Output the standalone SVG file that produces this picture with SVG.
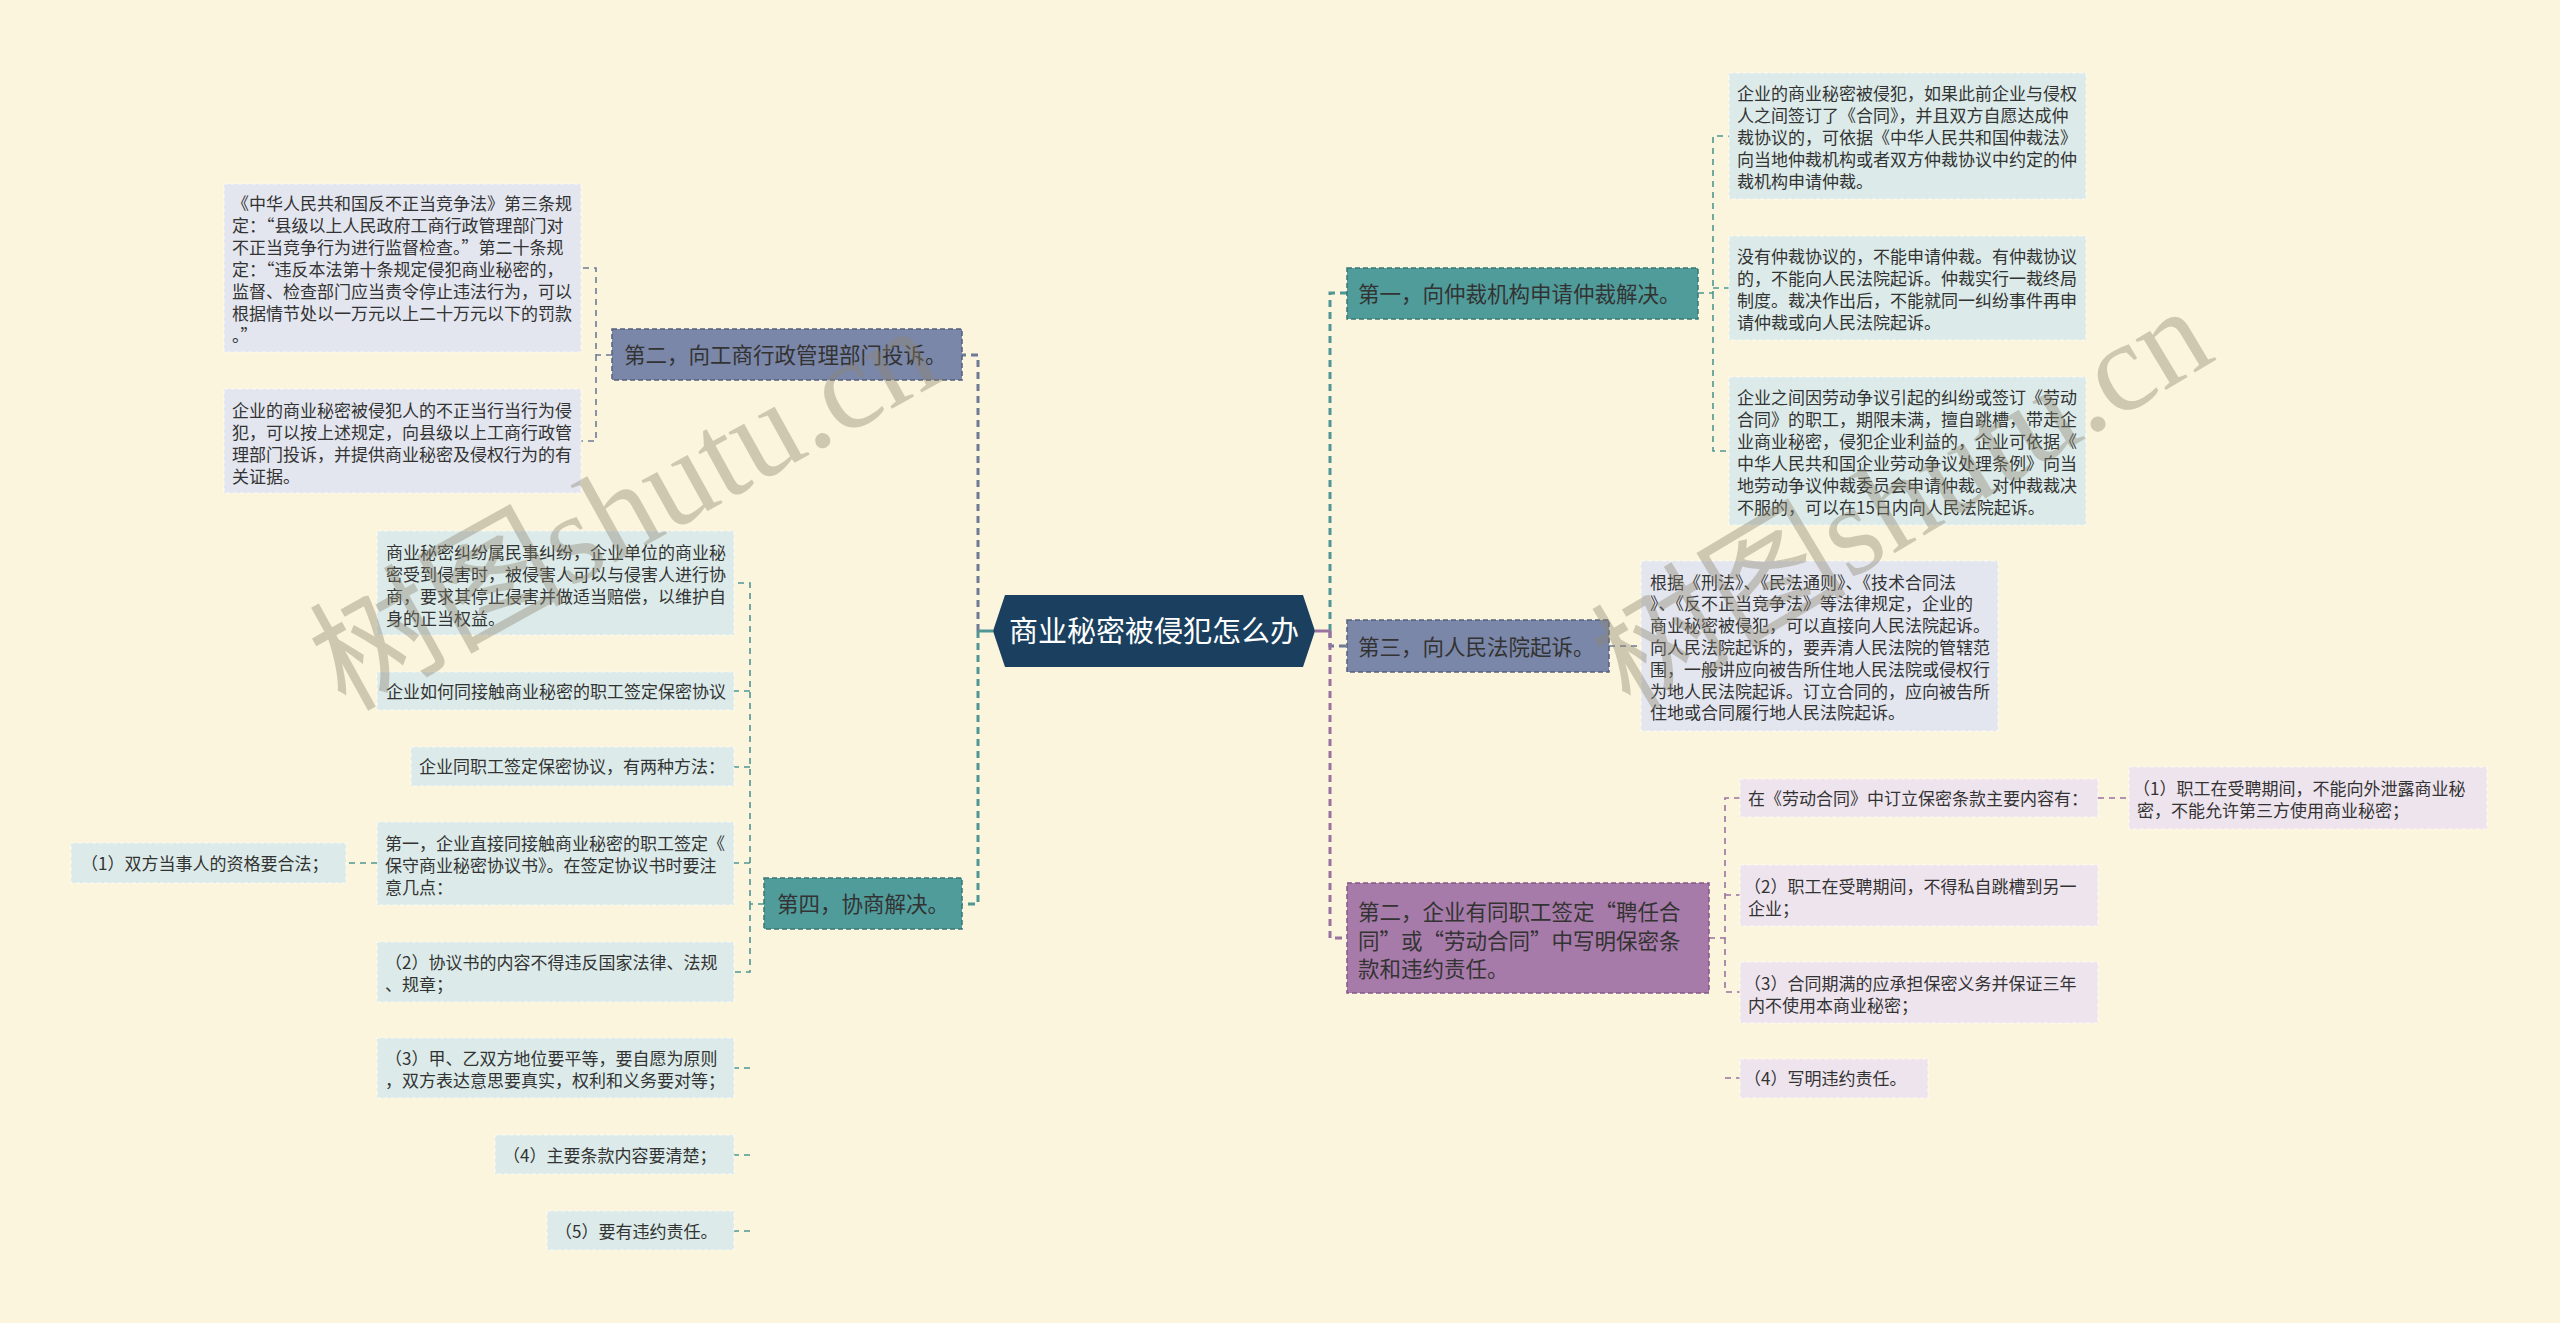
<svg xmlns="http://www.w3.org/2000/svg" width="2560" height="1323" viewBox="0 0 2560 1323">
<style>
text{font-family:"Noto Sans CJK SC","Noto Sans",sans-serif;fill:#333}
.leaf{font-size:17px}
.br{font-size:21.5px}
.fw{font-feature-settings:"fwid" 1}
.ls{fill:#e3e6ef;stroke:#ffffff;stroke-opacity:.7;stroke-width:1.2;stroke-dasharray:4 3}
.lt{fill:#dcebe9;stroke:#ffffff;stroke-opacity:.7;stroke-width:1.2;stroke-dasharray:4 3}
.lp{fill:#eee4ee;stroke:#ffffff;stroke-opacity:.7;stroke-width:1.2;stroke-dasharray:4 3}
.ns{fill:#7b87a9;stroke:#56607f;stroke-width:1.5;stroke-dasharray:5 3}
.nt{fill:#4f9c9b;stroke:#3a7775;stroke-width:1.5;stroke-dasharray:5 3}
.np{fill:#a77ba9;stroke:#85588a;stroke-width:1.5;stroke-dasharray:5 3}
.c{fill:none;stroke-dasharray:7 5}
.m{stroke-width:3}
.s{stroke-width:1.6;stroke-dasharray:6 5}
.cs{stroke:#6f7a98}
.ct{stroke:#4f9694}
.cp{stroke:#9a72a0}
.wm{font-size:128px;fill:#8c8470;fill-opacity:.4}
</style>
<rect x="0" y="0" width="2560" height="1323" fill="#fbf5dd"/>

<g id="connectors">
  <path class="c m cs" d="M978,631 V355 H962"/>
  <path class="c m ct" d="M978,631 V904 H962"/>
  <path d="M993,631 H978" stroke="#4f9694" stroke-width="3" fill="none"/>
  <path class="c m ct" d="M1330,631 V293 H1347"/>
  <path class="c m cs" d="M1330,631 V646 H1347"/>
  <path class="c m cp" d="M1330,631 V938 H1347"/>
  <path d="M1315,631 H1330" stroke="#9a72a0" stroke-width="3" fill="none"/>

  <path class="c s cs" d="M612,355 H596 V268 H581 M596,355 V441 H581"/>

  <path class="c s ct" d="M764,904 H750 V583 H734 M750,691 H734 M750,767 H734 M750,863 H734 M750,904 V972 H734 M750,1068 H734 M750,1155 H734 M750,1231 H734"/>
  <path class="c s ct" d="M377,863 H346"/>

  <path class="c s ct" d="M1698,293 H1713 V136 H1729 M1713,288 H1729 M1713,293 V451 H1729"/>
  <path class="c s cs" d="M1609,646 H1641"/>
  <path class="c s cp" d="M1709,938 H1725 V798 H1740 M1725,895 H1740 M1725,938 V992 H1740 M1725,1078 H1740"/>
  <path class="c s cp" d="M2098,798 H2129"/>
</g>

<g id="center">
  <polygon points="993,631 1005,595 1303,595 1315,631 1303,667 1005,667" fill="#1b3f5e"/>
  <text x="1154" y="642" text-anchor="middle" style="font-size:29px;fill:#ffffff">商业秘密被侵犯怎么办</text>
</g>

<g id="node-gongshang">
  <rect class="ns" x="612" y="329" width="350" height="51"/>
  <text class="br" x="624" y="363">第二，向工商行政管理部门投诉。</text>
</g>
<g id="leaf-gs1">
  <rect class="ls" x="224" y="184" width="357" height="168"/>
  <text class="leaf" x="232" y="209.5"><tspan x="232">《中华人民共和国反不正当竞争法》第三条规</tspan><tspan class="fw" x="232" dy="22">定：“县级以上人民政府工商行政管理部门对</tspan><tspan class="fw" x="232" dy="22">不正当竞争行为进行监督检查。”第二十条规</tspan><tspan class="fw" x="232" dy="22">定：“违反本法第十条规定侵犯商业秘密的，</tspan><tspan x="232" dy="22">监督、检查部门应当责令停止违法行为，可以</tspan><tspan x="232" dy="22">根据情节处以一万元以上二十万元以下的罚款</tspan><tspan class="fw" x="232" dy="22">。”</tspan></text>
</g>
<g id="leaf-gs2">
  <rect class="ls" x="224" y="389" width="357" height="104"/>
  <text class="leaf" x="232" y="416.5"><tspan x="232">企业的商业秘密被侵犯人的不正当行当行为侵</tspan><tspan x="232" dy="22">犯，可以按上述规定，向县级以上工商行政管</tspan><tspan x="232" dy="22">理部门投诉，并提供商业秘密及侵权行为的有</tspan><tspan x="232" dy="22">关证据。</tspan></text>
</g>

<g id="node-xieshang">
  <rect class="nt" x="764" y="878" width="198" height="51"/>
  <text class="br" x="777" y="912">第四，协商解决。</text>
</g>
<g id="leaf-xs1">
  <rect class="lt" x="377" y="531" width="357" height="104"/>
  <text class="leaf" x="386" y="558.5"><tspan x="386">商业秘密纠纷属民事纠纷，企业单位的商业秘</tspan><tspan x="386" dy="22">密受到侵害时，被侵害人可以与侵害人进行协</tspan><tspan x="386" dy="22">商，要求其停止侵害并做适当赔偿，以维护自</tspan><tspan x="386" dy="22">身的正当权益。</tspan></text>
</g>
<g id="leaf-xs2">
  <rect class="lt" x="377" y="672" width="357" height="38"/>
  <text class="leaf" x="386" y="697.5">企业如何同接触商业秘密的职工签定保密协议</text>
</g>
<g id="leaf-xs3">
  <rect class="lt" x="411" y="747" width="323" height="39"/>
  <text class="leaf" x="419" y="773">企业同职工签定保密协议，有两种方法：</text>
</g>
<g id="leaf-xs4">
  <rect class="lt" x="377" y="822" width="357" height="83"/>
  <text class="leaf" x="385" y="849.5"><tspan x="385">第一，企业直接同接触商业秘密的职工签定《</tspan><tspan x="385" dy="22">保守商业秘密协议书》。在签定协议书时要注</tspan><tspan x="385" dy="22">意几点：</tspan></text>
</g>
<g id="leaf-xs4a">
  <rect class="lt" x="71" y="843" width="275" height="40"/>
  <text class="leaf" x="81" y="869.5">（1）双方当事人的资格要合法；</text>
</g>
<g id="leaf-xs5">
  <rect class="lt" x="377" y="942" width="357" height="60"/>
  <text class="leaf" x="385" y="969"><tspan x="385">（2）协议书的内容不得违反国家法律、法规</tspan><tspan x="385" dy="22">、规章；</tspan></text>
</g>
<g id="leaf-xs6">
  <rect class="lt" x="377" y="1038" width="357" height="60"/>
  <text class="leaf" x="385" y="1065"><tspan x="385">（3）甲、乙双方地位要平等，要自愿为原则</tspan><tspan x="385" dy="22">，双方表达意思要真实，权利和义务要对等；</tspan></text>
</g>
<g id="leaf-xs7">
  <rect class="lt" x="495" y="1135" width="239" height="39"/>
  <text class="leaf" x="503" y="1161.5">（4）主要条款内容要清楚；</text>
</g>
<g id="leaf-xs8">
  <rect class="lt" x="547" y="1211" width="187" height="39"/>
  <text class="leaf" x="555" y="1237.5">（5）要有违约责任。</text>
</g>

<g id="node-zhongcai">
  <rect class="nt" x="1347" y="268" width="351" height="51"/>
  <text class="br" x="1358" y="301.5">第一，向仲裁机构申请仲裁解决。</text>
</g>
<g id="leaf-zc1">
  <rect class="lt" x="1729" y="73" width="357" height="126"/>
  <text class="leaf" x="1737" y="99.5"><tspan x="1737">企业的商业秘密被侵犯，如果此前企业与侵权</tspan><tspan x="1737" dy="22">人之间签订了《合同》，并且双方自愿达成仲</tspan><tspan x="1737" dy="22">裁协议的，可依据《中华人民共和国仲裁法》</tspan><tspan x="1737" dy="22">向当地仲裁机构或者双方仲裁协议中约定的仲</tspan><tspan x="1737" dy="22">裁机构申请仲裁。</tspan></text>
</g>
<g id="leaf-zc2">
  <rect class="lt" x="1729" y="236" width="357" height="104"/>
  <text class="leaf" x="1737" y="262.5"><tspan x="1737">没有仲裁协议的，不能申请仲裁。有仲裁协议</tspan><tspan x="1737" dy="22">的，不能向人民法院起诉。仲裁实行一裁终局</tspan><tspan x="1737" dy="22">制度。裁决作出后，不能就同一纠纷事件再申</tspan><tspan x="1737" dy="22">请仲裁或向人民法院起诉。</tspan></text>
</g>
<g id="leaf-zc3">
  <rect class="lt" x="1729" y="377" width="357" height="148"/>
  <text class="leaf" x="1737" y="403.5"><tspan x="1737">企业之间因劳动争议引起的纠纷或签订《劳动</tspan><tspan x="1737" dy="22">合同》的职工，期限未满，擅自跳槽，带走企</tspan><tspan x="1737" dy="22">业商业秘密，侵犯企业利益的，企业可依据《</tspan><tspan x="1737" dy="22">中华人民共和国企业劳动争议处理条例》向当</tspan><tspan x="1737" dy="22">地劳动争议仲裁委员会申请仲裁。对仲裁裁决</tspan><tspan x="1737" dy="22">不服的，可以在15日内向人民法院起诉。</tspan></text>
</g>

<g id="node-fayuan">
  <rect class="ns" x="1347" y="620" width="262" height="52"/>
  <text class="br" x="1358" y="654.5">第三，向人民法院起诉。</text>
</g>
<g id="leaf-fy1">
  <rect class="ls" x="1641" y="561" width="357" height="170"/>
  <text class="leaf" x="1650" y="588.5"><tspan x="1650">根据《刑法》、《民法通则》、《技术合同法</tspan><tspan x="1650" dy="21.8">》、《反不正当竞争法》等法律规定，企业的</tspan><tspan x="1650" dy="21.8">商业秘密被侵犯，可以直接向人民法院起诉。</tspan><tspan x="1650" dy="21.8">向人民法院起诉的，要弄清人民法院的管辖范</tspan><tspan x="1650" dy="21.8">围，一般讲应向被告所住地人民法院或侵权行</tspan><tspan x="1650" dy="21.8">为地人民法院起诉。订立合同的，应向被告所</tspan><tspan x="1650" dy="21.8">住地或合同履行地人民法院起诉。</tspan></text>
</g>

<g id="node-hetong">
  <rect class="np" x="1347" y="883" width="362" height="110"/>
  <text class="br fw" x="1358" y="920"><tspan x="1358">第二，企业有同职工签定“聘任合</tspan><tspan x="1358" dy="28.5">同”或“劳动合同”中写明保密条</tspan><tspan x="1358" dy="28.5">款和违约责任。</tspan></text>
</g>
<g id="leaf-ht1">
  <rect class="lp" x="1740" y="779" width="358" height="38"/>
  <text class="leaf" x="1748" y="804.5">在《劳动合同》中订立保密条款主要内容有：</text>
</g>
<g id="leaf-ht1a">
  <rect class="lp" x="2129" y="767" width="358" height="62"/>
  <text class="leaf" x="2133" y="794.5"><tspan x="2133">（1）职工在受聘期间，不能向外泄露商业秘</tspan><tspan x="2137" dy="22.5">密，不能允许第三方使用商业秘密；</tspan></text>
</g>
<g id="leaf-ht2">
  <rect class="lp" x="1740" y="865" width="358" height="61"/>
  <text class="leaf" x="1744" y="893"><tspan x="1744">（2）职工在受聘期间，不得私自跳槽到另一</tspan><tspan x="1748" dy="22">企业；</tspan></text>
</g>
<g id="leaf-ht3">
  <rect class="lp" x="1740" y="962" width="358" height="61"/>
  <text class="leaf" x="1744" y="989.5"><tspan x="1744">（3）合同期满的应承担保密义务并保证三年</tspan><tspan x="1748" dy="22">内不使用本商业秘密；</tspan></text>
</g>
<g id="leaf-ht4">
  <rect class="lp" x="1740" y="1059" width="188" height="39"/>
  <text class="leaf" x="1744" y="1085">（4）写明违约责任。</text>
</g>

<g id="watermark">
  <text class="wm" transform="translate(345,712) rotate(-29)">树图<tspan style="font-family:'Liberation Serif',serif">shutu.cn</tspan></text>
  <text class="wm" transform="translate(1630,712) rotate(-31)">树图<tspan style="font-family:'Liberation Serif',serif">shutu.cn</tspan></text>
</g>
</svg>
